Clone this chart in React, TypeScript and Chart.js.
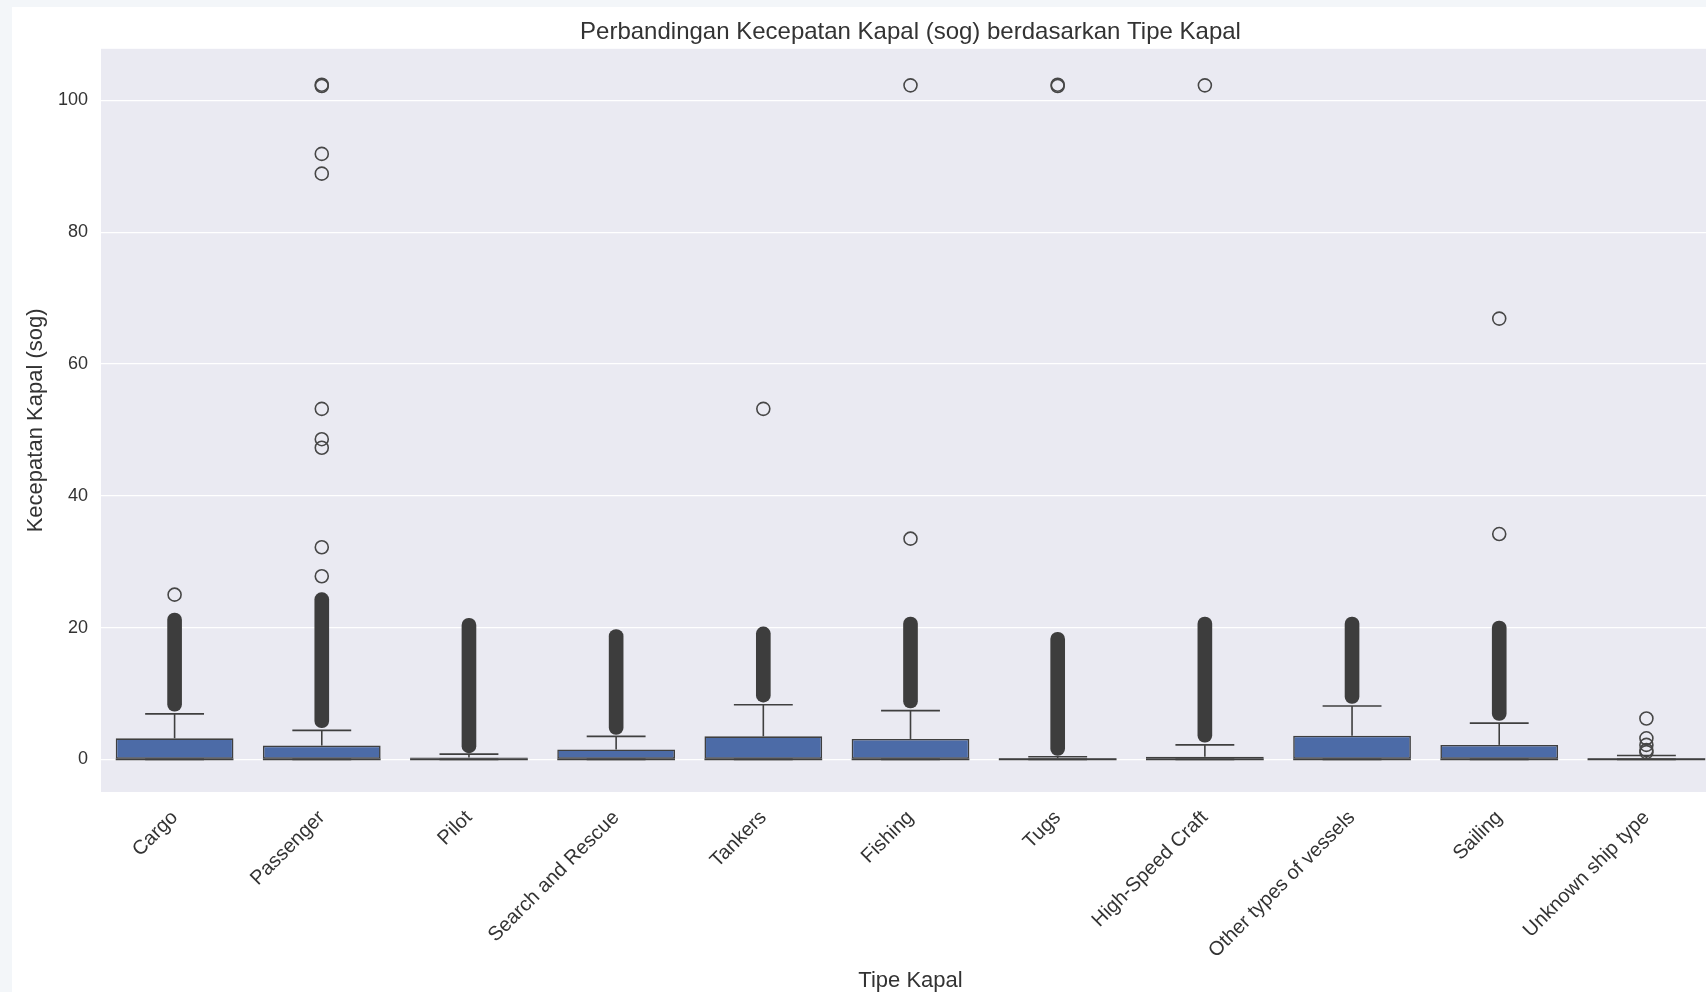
import { useEffect, useRef } from "react";
import { Chart, registerables } from "chart.js";

Chart.register(...registerables);

// Ship types on the categorical axis
const categories = [
  "Cargo",
  "Passenger",
  "Pilot",
  "Search and Rescue",
  "Tankers",
  "Fishing",
  "Tugs",
  "High-Speed Craft",
  "Other types of vessels",
  "Sailing",
  "Unknown ship type",
];

// Box statistics per ship type (speed over ground, knots)
const q1 = [0, 0, 0, 0, 0, 0, 0, 0, 0, 0, 0];
const medians = [0, 0, 0, 0, 0, 0, 0, 0, 0, 0, 0];
const q3 = [3.2, 2.1, 0.3, 1.5, 3.5, 3.1, 0.2, 0.4, 3.6, 2.2, 0.2];
const whiskerLow = [0, 0, 0, 0, 0, 0, 0, 0, 0, 0, 0];
const whiskerHigh = [6.9, 4.4, 0.8, 3.5, 8.3, 7.4, 0.4, 2.2, 8.1, 5.5, 0.6];

// Ranges where the outliers are packed so tightly they form a solid column
const denseLow: (number | null)[] = [7.3, 4.8, 1.0, 3.8, 8.7, 7.8, 0.6, 2.6, 8.5, 5.9, null];
const denseHigh: (number | null)[] = [22.2, 25.3, 21.4, 19.7, 20.1, 21.6, 19.3, 21.6, 21.6, 21.0, null];

// Individually visible outliers
const outliers: number[][] = [
  [25.0],
  [27.8, 32.2, 47.3, 48.6, 53.2, 88.9, 91.9, 102.2, 102.4],
  [],
  [],
  [53.2],
  [33.5, 102.3],
  [102.2, 102.4],
  [102.3],
  [],
  [34.2, 66.9],
  [1.1, 1.4, 2.2, 3.2, 6.2],
];

const yTicks = [0, 20, 40, 60, 80, 100];
const yMin = -4.95;
const yMax = 107.85;

const FONT = "'Liberation Sans', Arial, sans-serif";
const TEXT = "#333333";
const BOX_FILL = "#4c6ba7";
const LINE = "#3f3f3f";
const PLOT_BG = "#eaeaf2";

const BOX_INDEX = 2;

const plotBackground = {
  id: "plotBackground",
  beforeDraw(chart: any) {
    const { ctx, chartArea } = chart;
    ctx.save();
    ctx.fillStyle = PLOT_BG;
    ctx.fillRect(chartArea.left, chartArea.top, chartArea.right - chartArea.left, chartArea.bottom - chartArea.top);
    ctx.restore();
  },
};

// Whiskers, caps and median lines, placed with the chart's own scales
const boxWhiskers = {
  id: "boxWhiskers",
  afterDatasetDraw(chart: any, args: any) {
    if (args.index !== BOX_INDEX) return;
    const { ctx } = chart;
    const x = chart.scales.x;
    const y = chart.scales.y;
    const step = x.getPixelForValue(1) - x.getPixelForValue(0);
    const seg = (x0: number, y0: number, x1: number, y1: number) => {
      ctx.beginPath();
      ctx.moveTo(x0, y0);
      ctx.lineTo(x1, y1);
      ctx.stroke();
    };
    ctx.save();
    ctx.strokeStyle = LINE;
    ctx.lineWidth = 1.6;
    categories.forEach((_, i) => {
      const cx = x.getPixelForValue(i);
      const capHalf = step * 0.2;
      const boxHalf = step * 0.4;
      const yq3 = y.getPixelForValue(q3[i]);
      const yq1 = y.getPixelForValue(q1[i]);
      const yHi = y.getPixelForValue(whiskerHigh[i]);
      const yLo = y.getPixelForValue(whiskerLow[i]);
      seg(cx, yq3, cx, yHi);
      seg(cx, yq1, cx, yLo);
      seg(cx - capHalf, yHi, cx + capHalf, yHi);
      seg(cx - capHalf, yLo, cx + capHalf, yLo);
      const ym = y.getPixelForValue(medians[i]);
      seg(cx - boxHalf, ym, cx + boxHalf, ym);
    });
    ctx.restore();
  },
};

export default function App() {
  const canvasRef = useRef<HTMLCanvasElement | null>(null);

  useEffect(() => {
    const canvas = canvasRef.current;
    if (!canvas) return;

    const outlierPoints = outliers.flatMap((vals, i) =>
      vals.map((v) => ({ x: categories[i], y: v }))
    );

    const chart = new Chart(canvas, {
      type: "bar",
      data: {
        labels: categories,
        datasets: [
          {
            type: "line",
            label: "outliers",
            data: outlierPoints as any,
            showLine: false,
            pointStyle: "circle",
            pointRadius: 6.5,
            pointBorderWidth: 1.6,
            pointBorderColor: "#474747",
            pointBackgroundColor: "rgba(0,0,0,0)",
          } as any,
          {
            type: "bar",
            label: "dense outliers",
            data: denseLow.map((lo, i) => (lo == null ? null : [lo, denseHigh[i] as number])) as any,
            backgroundColor: "#3d3d3d",
            borderWidth: 0,
            borderRadius: 7,
            borderSkipped: false,
            barThickness: 14,
            grouped: false,
          } as any,
          {
            type: "bar",
            label: "box",
            data: categories.map((_, i) => [q1[i], q3[i]]) as any,
            backgroundColor: BOX_FILL,
            borderColor: LINE,
            borderWidth: 1.6,
            borderSkipped: false,
            barPercentage: 0.8,
            categoryPercentage: 1,
            grouped: false,
          } as any,
        ],
      },
      options: {
        responsive: false,
        animation: false,
        events: [],
        layout: { padding: { left: 0, right: 89, top: 0, bottom: 0 } },
        plugins: {
          legend: { display: false },
          tooltip: { enabled: false },
          title: {
            display: true,
            fullSize: false,
            text: "Perbandingan Kecepatan Kapal (sog) berdasarkan Tipe Kapal",
            color: TEXT,
            font: { family: FONT, size: 24, weight: "normal" },
            padding: { top: 11, bottom: 2 },
          },
        },
        scales: {
          x: {
            type: "category",
            offset: true,
            grid: { display: false, drawTicks: false },
            border: { display: false },
            ticks: {
              autoSkip: false,
              minRotation: 45,
              maxRotation: 45,
              color: TEXT,
              font: { family: FONT, size: 20 },
              padding: 14,
            },
            title: {
              display: true,
              text: "Tipe Kapal",
              color: TEXT,
              font: { family: FONT, size: 22, lineHeight: 1.0 },
              padding: { top: 0, bottom: 0 },
            },
            afterFit: (s: any) => {
              s.height = 200;
            },
          },
          y: {
            type: "linear",
            min: yMin,
            max: yMax,
            afterBuildTicks: (s: any) => {
              s.ticks = yTicks.map((v) => ({ value: v }));
            },
            grid: { color: "#ffffff", lineWidth: 1.3, drawTicks: false },
            border: { display: false },
            ticks: {
              color: TEXT,
              font: { family: FONT, size: 18 },
              padding: 13,
            },
            title: {
              display: true,
              text: "Kecepatan Kapal (sog)",
              color: TEXT,
              font: { family: FONT, size: 22 },
              padding: { top: 11, bottom: 0 },
            },
            afterFit: (s: any) => {
              s.width = 89;
            },
          },
        },
      },
      plugins: [plotBackground, boxWhiskers],
    });

    return () => chart.destroy();
  }, []);

  return (
    <div style={{ position: "fixed", left: 0, top: 0, width: "100vw", height: "100vh", background: "#f3f6f9", overflow: "hidden" }}>
      <div style={{ position: "absolute", left: 12, top: 7, right: 0, bottom: 0, background: "#ffffff", overflow: "hidden" }}>
        <canvas ref={canvasRef} width={1797} height={985} style={{ display: "block" }} />
      </div>
    </div>
  );
}
